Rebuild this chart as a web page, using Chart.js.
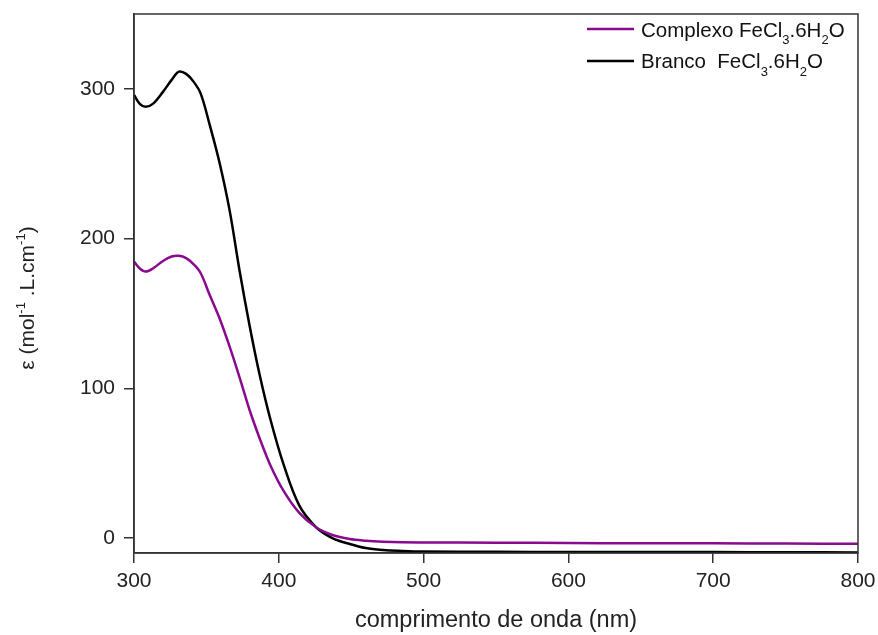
<!DOCTYPE html>
<html>
<head>
<meta charset="utf-8">
<script src="https://cdn.jsdelivr.net/npm/chart.js@4"></script>
<style>
html,body{margin:0;padding:0;background:#fff;}
#wrap{width:878px;height:635px;}
</style>
</head>
<body>
<div id="wrap"><canvas id="c" width="878" height="635"></canvas></div>
<script>
const wavelengths = [300,304,308,313,320,326,331,336,341,346,352,359,366,373,380,387,394,403,414,426,437,449,460,472,485,500,550,600,650,700,750,800];
const complexo = [184.6,180,178,180,185,188,188.5,187,183,177,163,147,128,107,85,66,49,32,17,7,2,-0.7,-1.8,-2.5,-2.9,-3,-3.1,-3.3,-3.5,-3.5,-3.7,-3.8];
const branco = [296,290,288,290,298,306,311.5,310,305,297,277,251,219,178,141,108,80,50,22,7,0,-4,-6.7,-8,-8.6,-9,-9.2,-9.3,-9.3,-9.4,-9.5,-9.6];
const seriesLabels = ['Complexo FeCl₃.6H₂O', 'Branco  FeCl₃.6H₂O'];
const seriesColors = ['#8a0a8f', '#000000'];
const xTicks = [300,400,500,600,700,800];
const yTicks = [0,100,200,300];
const xAxisTitle = 'comprimento de onda (nm)';
const yAxisTitle = 'ε (mol⁻¹ .L.cm⁻¹)';

const FONT = 'Arial, "Liberation Sans", sans-serif';

function toPoints(xs, ys){ return xs.map((x,i)=>({x:x,y:ys[i]})); }

const subMap = {'₀':'0','₁':'1','₂':'2','₃':'3','₄':'4','₅':'5','₆':'6','₇':'7','₈':'8','₉':'9'};
const supMap = {'⁻':'-','¹':'1','²':'2','³':'3'};

// draws text with sub/superscripts starting at (x, baseline y); returns end x
function drawRich(ctx, text, x, y, size, smallSize){
  for (const ch of text){
    if (subMap[ch]){
      ctx.font = smallSize + 'px ' + FONT;
      ctx.fillText(subMap[ch], x, y + size*0.38);
      x += ctx.measureText(subMap[ch]).width;
    } else if (supMap[ch]){
      ctx.font = smallSize + 'px ' + FONT;
      ctx.fillText(supMap[ch], x, y - size*0.45);
      x += ctx.measureText(supMap[ch]).width;
    } else {
      ctx.font = size + 'px ' + FONT;
      ctx.fillText(ch, x, y);
      x += ctx.measureText(ch).width;
    }
  }
  return x;
}
function measureRich(ctx, text, size, smallSize){
  let w = 0;
  for (const ch of text){
    const s = subMap[ch] || supMap[ch];
    ctx.font = (s ? smallSize : size) + 'px ' + FONT;
    w += ctx.measureText(s || ch).width;
  }
  return w;
}

const framePlugin = {
  id:'frame',
  afterDraw(chart){
    const a = chart.chartArea, ctx = chart.ctx;
    ctx.save();
    ctx.strokeStyle = '#333';
    ctx.lineWidth = 1.5;
    ctx.strokeRect(a.left, a.top, a.right-a.left, a.bottom-a.top);
    ctx.restore();
  }
};

const legendPlugin = {
  id:'customLegend',
  afterDraw(chart){
    const ctx = chart.ctx;
    const x0 = 587, x1 = 634, tx = 641;
    const lineY = [29, 61];
    const baseY = [36.5, 68];
    ctx.save();
    chart.data.datasets.forEach((ds,i)=>{
      ctx.strokeStyle = ds.borderColor;
      ctx.lineWidth = 2.5;
      ctx.beginPath(); ctx.moveTo(x0,lineY[i]); ctx.lineTo(x1,lineY[i]); ctx.stroke();
      ctx.fillStyle = '#111';
      ctx.textBaseline = 'alphabetic';
      drawRich(ctx, ds.label, tx, baseY[i], 20.5, 13);
    });
    ctx.restore();
  }
};

const yTitlePlugin = {
  id:'yTitle',
  afterDraw(chart){
    const ctx = chart.ctx;
    const size = 21, small = 13;
    ctx.save();
    ctx.fillStyle = '#222';
    ctx.textBaseline = 'alphabetic';
    const w = measureRich(ctx, yAxisTitle, size, small);
    ctx.translate(34, 298);
    ctx.rotate(-Math.PI/2);
    drawRich(ctx, yAxisTitle, -w/2, 0, size, small);
    ctx.restore();
  }
};

new Chart(document.getElementById('c'), {
  type:'line',
  data:{
    datasets:[
      {label:seriesLabels[0], data:toPoints(wavelengths, complexo), borderColor:seriesColors[0], backgroundColor:seriesColors[0], borderWidth:2.5, pointRadius:0, tension:0.35, fill:false},
      {label:seriesLabels[1], data:toPoints(wavelengths, branco), borderColor:seriesColors[1], backgroundColor:seriesColors[1], borderWidth:2.5, pointRadius:0, tension:0.35, fill:false}
    ]
  },
  options:{
    responsive:false,
    animation:false,
    layout:{padding:{top:14, right:20, left:0, bottom:0}},
    plugins:{legend:{display:false}, tooltip:{enabled:false}},
    scales:{
      x:{
        type:'linear', min:300, max:800,
        afterBuildTicks(axis){ axis.ticks = xTicks.map(v=>({value:v})); },
        afterFit(s){ s.height = 82; s.paddingLeft = 0; s.paddingRight = 0; },
        grid:{drawOnChartArea:false, drawTicks:true, tickLength:10, color:'#333', lineWidth:1.5},
        border:{display:true, color:'#333', width:1.5},
        ticks:{font:{family:FONT, size:21}, color:'#222', padding:6, maxRotation:0},
        title:{display:true, text:xAxisTitle, font:{family:FONT, size:23.5}, color:'#222', padding:{top:0,bottom:0}}
      },
      y:{
        type:'linear', min:-10, max:350,
        afterBuildTicks(axis){ axis.ticks = yTicks.map(v=>({value:v})); },
        afterFit(s){ s.width = 134; s.paddingTop = 0; s.paddingBottom = 0; },
        grid:{drawOnChartArea:false, drawTicks:true, tickLength:10, color:'#333', lineWidth:1.5},
        border:{display:true, color:'#333', width:1.5},
        ticks:{font:{family:FONT, size:21}, color:'#222', padding:9},
        title:{display:false, text:yAxisTitle}
      }
    }
  },
  plugins:[framePlugin, legendPlugin, yTitlePlugin]
});
</script>
</body>
</html>
